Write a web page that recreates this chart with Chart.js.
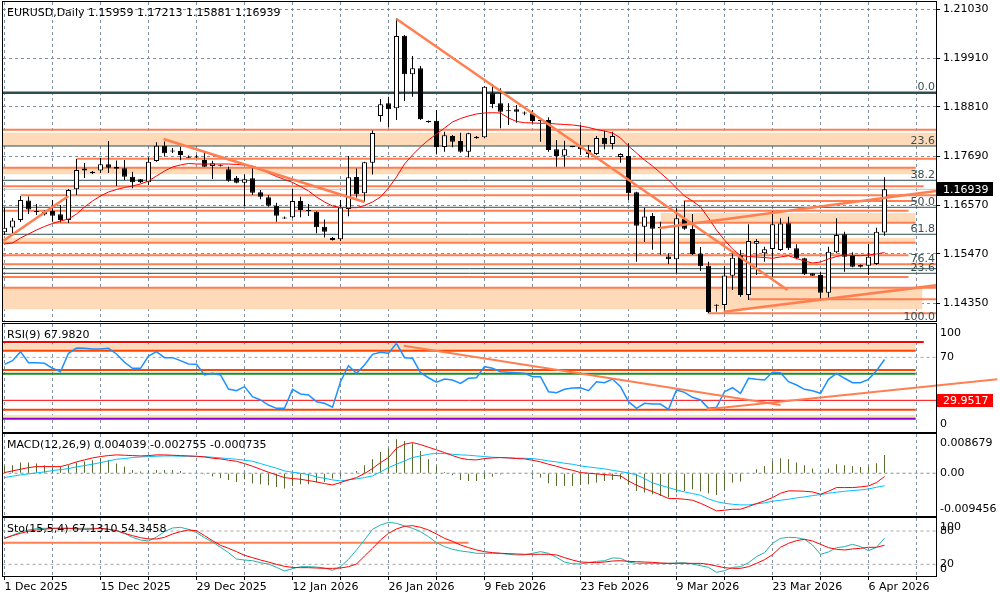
<!DOCTYPE html>
<html><head><meta charset="utf-8">
<script src="https://cdn.jsdelivr.net/npm/chart.js@4.4.1/dist/chart.umd.min.js"></script>
<style>
html,body{margin:0;padding:0;background:#fff;width:1000px;height:600px;overflow:hidden}
canvas{position:absolute;left:0}
</style></head><body>
<canvas id="cMain" width="1000" height="323" style="top:0px"></canvas>
<canvas id="cRsi" width="1000" height="110" style="top:323px"></canvas>
<canvas id="cMacd" width="1000" height="84" style="top:433px"></canvas>
<canvas id="cSto" width="1000" height="83" style="top:517px"></canvas>
<script>
// ---------------- DATA ----------------
const symbol = 'EURUSD,Daily';
const dateTicks = [0,12,24,36,48,60,72,84,96,108];
const dateLabels = ['1 Dec 2025','15 Dec 2025','29 Dec 2025','12 Jan 2026','26 Jan 2026','9 Feb 2026','23 Feb 2026','9 Mar 2026','23 Mar 2026','6 Apr 2026'];
const priceTicks = [1.21030,1.19910,1.18810,1.17690,1.16570,1.15470,1.14350];

const open = [
1.15962,1.16071,1.16241,1.16685,1.16446,1.16423,1.16446,1.16371,1.16241,1.16939,
1.17412,1.17303,1.17367,1.17507,1.17453,1.17417,1.17226,1.17167,1.17098,1.17582,
1.17930,1.17798,1.17810,1.17680,1.17685,1.17605,1.17469,1.17476,1.17394,1.17203,
1.17089,1.17189,1.16871,1.16757,1.16567,1.16287,1.16303,1.16673,1.16469,1.16430,
1.16089,1.15787,1.15803,1.16491,1.17219,1.16848,1.17544,1.18605,1.18894,1.18780,
1.20428,1.19555,1.19689,1.18492,1.18496,1.17901,1.18151,1.18037,1.17794,1.18135,
1.18121,1.19121,1.18894,1.18730,1.18757,1.18673,1.18667,1.18507,1.18514,1.17848,
1.17703,1.17912,1.17907,1.17832,1.17741,1.18105,1.17969,1.17673,1.17696,1.16871,
1.16089,1.16332,1.16082,1.15412,1.15348,1.16264,1.16037,1.15478,1.15203,1.14305,
1.14310,1.14975,1.15446,1.14537,1.15703,1.15485,1.15582,1.15560,1.16167,1.15598,
1.15371,1.15030,1.14991,1.14589,1.15507,1.15917,1.15446,1.15219,1.15203,1.15242,1.15959];
const high = [
1.16514,1.16287,1.16787,1.16776,1.16605,1.16457,1.16696,1.16582,1.16946,1.17628,
1.17537,1.17355,1.17651,1.18037,1.17594,1.17605,1.17339,1.17173,1.17667,1.18007,
1.18026,1.17878,1.17907,1.17707,1.17719,1.17780,1.17589,1.17503,1.17453,1.17242,
1.17280,1.17417,1.16923,1.16810,1.16635,1.16321,1.16946,1.16771,1.16605,1.16442,
1.16253,1.15855,1.16696,1.17696,1.17412,1.17567,1.18276,1.18992,1.19044,1.20821,
1.20446,1.19969,1.19742,1.18503,1.18742,1.18248,1.18173,1.18226,1.18226,1.18151,
1.19287,1.19332,1.19235,1.18894,1.18855,1.18707,1.18742,1.18514,1.18576,1.18060,
1.18044,1.17923,1.18401,1.17946,1.18151,1.18271,1.18248,1.17757,1.17984,1.16885,
1.16521,1.16401,1.16203,1.15485,1.16507,1.16673,1.16378,1.15628,1.15294,1.14325,
1.15196,1.15485,1.15560,1.16144,1.15810,1.15635,1.16446,1.16280,1.16317,1.15689,
1.15385,1.15037,1.15067,1.15635,1.16280,1.15976,1.15507,1.15230,1.15696,1.16066,1.17213];
const low = [
1.15901,1.15901,1.16196,1.16378,1.16355,1.16344,1.16203,1.16189,1.16173,1.16810,
1.17196,1.17287,1.17310,1.17310,1.17014,1.17151,1.16962,1.17082,1.17037,1.17567,
1.17685,1.17764,1.17598,1.17651,1.17651,1.17446,1.17173,1.17457,1.17112,1.17076,
1.16560,1.16810,1.16712,1.16544,1.16203,1.16264,1.16280,1.16303,1.16332,1.15939,
1.15844,1.15776,1.15764,1.16326,1.16753,1.16657,1.17276,1.18476,1.18344,1.18514,
1.18946,1.19044,1.18514,1.18451,1.17748,1.17794,1.17894,1.17771,1.17667,1.18087,
1.18098,1.18780,1.18326,1.18401,1.18453,1.18621,1.18439,1.18021,1.17794,1.17453,
1.17453,1.17894,1.17719,1.17657,1.17719,1.17848,1.17848,1.17544,1.16696,1.15294,
1.15741,1.15567,1.15453,1.15241,1.15030,1.16021,1.15446,1.15082,1.14128,1.14157,
1.14150,1.14650,1.14498,1.14423,1.14991,1.15294,1.14953,1.15537,1.15560,1.15348,
1.14991,1.14969,1.14439,1.14476,1.15485,1.15067,1.15167,1.15162,1.14991,1.15219,1.15881];
const close = [
1.16066,1.16230,1.16696,1.16480,1.16423,1.16367,1.16339,1.16241,1.16923,1.17378,
1.17367,1.17339,1.17507,1.17430,1.17407,1.17226,1.17098,1.17098,1.17567,1.17930,
1.17757,1.17810,1.17719,1.17657,1.17662,1.17453,1.17530,1.17480,1.17135,1.17089,
1.17167,1.16862,1.16771,1.16567,1.16339,1.16276,1.16673,1.16469,1.16446,1.16076,
1.15976,1.15832,1.16526,1.17212,1.16828,1.17553,1.18219,1.18871,1.18757,1.20423,
1.19553,1.19689,1.18530,1.18462,1.17901,1.18167,1.18021,1.17794,1.18212,1.18098,
1.19271,1.18878,1.18703,1.18714,1.18703,1.18662,1.18492,1.18492,1.17832,1.17696,
1.17848,1.17901,1.17848,1.17741,1.18105,1.17962,1.18151,1.17741,1.16848,1.16112,
1.16321,1.16042,1.16053,1.15348,1.16280,1.16042,1.15469,1.15191,1.14150,1.14291,
1.14980,1.15385,1.14537,1.15764,1.15764,1.15576,1.16144,1.16162,1.15598,1.15371,
1.15007,1.14975,1.14589,1.15521,1.15901,1.15407,1.15180,1.15180,1.15407,1.15976,1.16939];
const ma = [
1.15696,1.15719,1.15832,1.15923,1.16014,1.16094,1.16162,1.16219,1.16264,1.16378,
1.16537,1.16673,1.16787,1.16878,1.16935,1.16980,1.17014,1.17060,1.17128,1.17242,
1.17355,1.17446,1.17492,1.17526,1.17514,1.17514,1.17514,1.17514,1.17514,1.17503,
1.17492,1.17469,1.17401,1.17310,1.17230,1.17162,1.17094,1.17003,1.16901,1.16764,
1.16651,1.16560,1.16526,1.16521,1.16521,1.16571,1.16651,1.16764,1.16969,1.17219,
1.17514,1.17719,1.17901,1.18060,1.18196,1.18332,1.18469,1.18548,1.18605,1.18651,
1.18673,1.18680,1.18673,1.18560,1.18480,1.18453,1.18446,1.18439,1.18439,1.18423,
1.18412,1.18401,1.18378,1.18344,1.18298,1.18264,1.18219,1.18105,1.17923,1.17764,
1.17605,1.17469,1.17310,1.17151,1.16969,1.16787,1.16673,1.16537,1.16287,1.16014,
1.15787,1.15582,1.15435,1.15412,1.15401,1.15389,1.15371,1.15401,1.15430,1.15367,
1.15310,1.15264,1.15287,1.15355,1.15412,1.15446,1.15435,1.15430,1.15446,1.15469,1.15503];

// horizontal objects on the price pane: [price, fromBar, toBar]
const slateLevels = [[1.19135,-1,117],[1.17923,-1,117],[1.17144,-1,117],[1.16530,-1,117],[1.15917,-1,117],[1.15135,-1,117],[1.15030,-1,117]];
const coralLevels = [[1.18294,-1,117],[1.17635,9,117],[1.17430,-1,113.9],[1.17007,-1,114.9],[1.16803,2,117],[1.16673,84.9,113.9],[1.16453,-1,113],[1.16180,6,113.9],[1.15726,-1,113.9],[1.15439,-1,113],[1.15235,-1,117],[1.14946,-1,113],[1.14703,-1,117],[1.14439,93,117],[1.14121,87.9,117]];
// rectangles: [top, bottom, fromBar, toBar]
const peachBands = [[1.18226,1.17923,-1,117],[1.17430,1.17280,-1,113.9],[1.16401,1.16180,82,113.9],[1.15832,1.15726,-1,113.9],[1.14703,1.14212,-1,114.75]];
// trend lines: [bar0, price0, bar1, price1]
const trendLines = [[-0.125,1.15771,8,1.16787],[19.875,1.18082,45,1.16651],[49,1.20810,97.875,1.14651],[81.875,1.16060,116.5,1.16901],[89.875,1.14157,116.5,1.14757]];
const fibText = ['0.0','23.6','38.2','50.0','61.8','76.4','23.6','100.0'];
const fibLevel = [1.19135,1.17923,1.17144,1.16530,1.15917,1.15235,1.15030,1.13923];

const rsi = [
63.5,66.9,75.3,65.0,65.0,64.4,59.8,56.6,73.8,78.7,
78.4,77.8,77.8,78.4,73.1,65.4,59.8,59.8,71.2,75.3,
69.7,69.7,66.9,63.8,63.5,53.6,55.1,53.6,40.5,38.9,
42.7,33.3,30.3,25.6,22.5,22.5,40.2,35.9,34.9,28.7,
27.2,23.5,47.3,62.2,55.1,62.9,72.8,74.7,73.8,83.1,
69.7,69.1,55.7,51.0,46.8,49.8,48.9,45.8,50.5,51.0,
61.3,59.8,56.6,56.1,55.7,55.1,52.0,52.0,38.0,37.1,
40.2,41.4,41.7,38.9,47.3,46.4,49.8,42.7,28.7,22.5,
27.2,26.5,26.5,21.6,39.6,37.4,32.8,30.3,22.5,23.5,
38.0,41.7,36.5,50.5,49.5,48.9,56.1,55.7,47.3,44.2,
40.2,38.9,36.5,49.5,55.1,50.5,46.4,46.4,49.5,57.6,67.982];
const rsiRedTop = [84.3,-1,114.9];
const rsiRedLine = 29.9517;
const rsiOrangeLevels = [[76.2,-1,113.9],[58.2,-1,113.9],[21.2,-1,113.9]];
const rsiGreenLevel = [54.8,-1,113.9];
const rsiPurpleLevel = [12.9,-1,113.9];
const rsiPeachBand = [82.1,76.8,-1,113.9];
const rsiKhakiBand = [16.3,12.9,-1,113.9];
const rsiTrendLines = [[49.9,80.8,97,25.6],[87.8,21.6,124.1,49.6]];

const macdHist = [
0.00162,0.00177,0.00236,0.00236,0.00214,0.00177,0.00125,0.00147,0.00177,0.00236,
0.00258,0.00288,0.00324,0.00295,0.00214,0.00147,0.00074,0.00037,0.0005,0.00074,
0.00074,0.00074,0.00052,0.0,-0.0001,-0.00022,-0.00074,-0.00111,-0.00147,-0.00192,
-0.00133,-0.00229,-0.00243,-0.00265,-0.00302,-0.00339,-0.0028,-0.00243,-0.00243,-0.00206,
-0.00192,-0.00118,-0.00059,0.0,0.00052,0.00177,0.0031,0.00472,0.00546,0.00752,
0.00715,0.00664,0.00494,0.0031,0.00162,0.00029,-0.00044,-0.00147,-0.0017,-0.0017,
-0.0012,-0.0008,-0.0003,-0.0001,0.0,-0.0001,-0.0005,-0.00096,-0.00221,-0.0028,
-0.0028,-0.0028,-0.00258,-0.00243,-0.00206,-0.0017,-0.00147,-0.00133,-0.0025,-0.00391,
-0.00428,-0.00464,-0.00501,-0.00538,-0.00428,-0.00391,-0.00354,-0.00406,-0.0045,-0.00479,
-0.00369,-0.00206,-0.00184,-0.0001,0.00088,0.00162,0.00273,0.00332,0.0031,0.00236,
0.00177,0.00103,0.0,0.00103,0.00199,0.00177,0.00162,0.0014,0.00147,0.00221,0.004039];
const macdRed = [
0.00015,0.00052,0.00088,0.00125,0.00147,0.00147,0.00147,0.00147,0.00192,0.00251,
0.00295,0.00339,0.00369,0.00391,0.00406,0.00398,0.00391,0.00383,0.00391,0.00406,
0.00406,0.00398,0.00391,0.00383,0.00376,0.00361,0.00332,0.00317,0.00288,0.00265,
0.00214,0.00155,0.00088,0.00022,-0.00037,-0.00096,-0.00118,-0.00133,-0.00162,-0.00192,
-0.00229,-0.00258,-0.00206,-0.00147,-0.00096,-0.00007,0.00103,0.00236,0.00347,0.00553,
0.00641,0.00678,0.00634,0.00575,0.00516,0.00457,0.00391,0.00332,0.00302,0.00295,
0.00324,0.00339,0.00347,0.00339,0.00324,0.00317,0.00288,0.00251,0.00199,0.00155,
0.00103,0.00066,0.00015,0.0,-0.00015,-0.00029,-0.00044,-0.00059,-0.0017,-0.00265,
-0.00339,-0.00406,-0.00479,-0.0056,-0.0056,-0.00575,-0.00597,-0.00664,-0.00745,-0.00833,
-0.00818,-0.00796,-0.00796,-0.00737,-0.00671,-0.00612,-0.00538,-0.00442,-0.00391,-0.00391,
-0.00398,-0.00413,-0.00464,-0.00398,-0.00317,-0.00317,-0.00317,-0.00302,-0.0028,-0.00206,-0.000735];
const macdBlue = [
-0.00096,-0.00066,-0.00037,-0.00015,0.00007,0.00029,0.00059,0.00081,0.00103,0.0014,
0.0017,0.00199,0.00236,0.00273,0.0031,0.00324,0.00347,0.00361,0.00369,0.00376,
0.00383,0.00383,0.00376,0.00376,0.00369,0.00365,0.00354,0.00339,0.00324,0.0031,
0.00288,0.00265,0.00214,0.00162,0.00111,0.00052,0.00022,0.0,-0.00029,-0.00081,
-0.00111,-0.00147,-0.0017,-0.00147,-0.00125,-0.00096,-0.00059,0.00029,0.00125,0.00199,
0.00273,0.00347,0.00383,0.0042,0.00442,0.00435,0.0042,0.00406,0.00398,0.00383,
0.00369,0.00354,0.00347,0.00339,0.00335,0.00332,0.00324,0.00302,0.00273,0.00251,
0.00221,0.00199,0.00162,0.0014,0.00118,0.00096,0.00066,0.00037,0.00007,-0.00037,
-0.00118,-0.00214,-0.00265,-0.00317,-0.00369,-0.00413,-0.0045,-0.00487,-0.00568,-0.00627,
-0.00664,-0.00686,-0.007,-0.007,-0.00678,-0.00656,-0.00619,-0.00597,-0.00575,-0.00546,
-0.00523,-0.00494,-0.00472,-0.00442,-0.0042,-0.00398,-0.00383,-0.00369,-0.00347,-0.0031,-0.002755];
const macdMax = 0.008679, macdMin = -0.009456;

const stoMain = [
66.8,72.2,78.2,81.8,84.2,84.8,84.8,84.8,84.8,84.8,
84.8,84.8,84.8,83.0,80.6,75.8,68.6,63.8,62.0,69.2,
78.8,85.4,86.6,83.0,77.0,68.0,60.2,50.6,41.0,29.5,
27.7,26.5,22.9,20.5,14.5,7.9,12.1,15.7,15.7,15.1,
13.3,9.1,15.7,29.0,45.8,63.8,83.0,90.8,95.6,93.8,
89.0,84.8,78.8,69.8,59.0,51.8,47.0,44.0,42.2,39.8,
39.8,39.8,39.8,38.0,36.8,36.8,39.8,42.8,39.8,32.6,
24.1,21.1,20.5,22.9,25.3,26.5,31.4,30.8,24.1,21.7,
21.7,21.7,21.7,21.7,22.3,22.9,20.5,17.5,14.5,5.5,
8.5,14.5,15.7,22.9,33.8,41.0,57.8,66.8,68.6,68.0,
65.0,54.8,38.0,42.2,50.0,51.8,56.0,51.8,44.6,50.6,67.131];
const stoSignal = [
66.8,71.6,75.8,79.4,81.8,83.0,84.8,84.8,84.8,83.6,
83.0,83.6,84.8,83.0,80.6,75.8,71.6,68.0,65.6,65.6,
68.6,74.6,78.8,81.8,80.6,71.6,62.6,54.2,48.8,42.8,
36.2,32.0,27.7,24.1,19.9,16.3,14.5,13.9,13.9,13.3,
12.7,12.7,13.3,15.7,20.5,35.0,48.8,63.8,75.8,83.6,
88.4,89.6,86.6,81.8,74.6,66.8,61.4,54.8,50.0,45.8,
42.8,41.0,39.8,39.2,38.6,38.0,38.0,38.0,38.0,36.8,
32.0,27.7,24.1,23.5,22.9,24.1,25.9,26.5,25.3,24.7,
24.1,23.5,22.3,21.7,21.7,21.7,21.7,21.7,19.9,16.9,
13.9,12.7,12.7,15.7,21.7,28.3,37.4,50.6,57.8,62.6,
65.0,62.0,56.0,50.0,47.0,45.8,47.6,48.8,50.6,50.6,54.3458];
const stoLevel = [58.9,-1,58];

// ---------------- RENDER ----------------
const FONT = {family: 'DejaVu Sans', size: 11};
const X_MIN = -0.1875, X_MAX = 116.4375;
const gridIdx = []; for (let i = 0; i <= 114; i += 6) gridIdx.push(i);
const last = close.length - 1;

function xScale(showLabels) {
  return {
    type: 'linear', min: X_MIN, max: X_MAX, bounds: 'data', offset: false,
    afterBuildTicks: s => { s.ticks = gridIdx.map(v => ({value: v})); },
    afterFit: s => { s.height = showLabels ? 24 : 0; s.paddingLeft = 0; s.paddingRight = 0; },
    grid: {color: '#8090a0', lineWidth: 1, offset: false, drawTicks: showLabels, tickLength: 4,
           tickColor: '#000', tickWidth: 1, tickBorderDash: []},
    border: {display: false, dash: [3, 3]},
    ticks: {display: showLabels, autoSkip: false, maxRotation: 0, minRotation: 0, align: 'start',
            padding: 1, color: '#000', font: FONT,
            callback: v => { const k = dateTicks.indexOf(v); return k >= 0 ? dateLabels[k] : ''; }}
  };
}
function paneY(min, max, vals, texts) {
  return {
    type: 'linear', position: 'right', min, max, bounds: 'data', beginAtZero: false,
    afterBuildTicks: s => { s.ticks = vals.map(v => ({value: v})); },
    afterFit: s => { s.width = 64; s.paddingTop = 0; s.paddingBottom = 0; },
    grid: {drawOnChartArea: false, drawTicks: false},
    border: {display: false},
    ticks: {padding: 4, autoSkip: false, color: '#000', font: FONT, callback: (v, i) => texts[i]}
  };
}
function seg(x0, y0, x1, y1, color, width, order, extra) {
  return Object.assign({type: 'line', data: [{x: x0, y: y0}, {x: x1, y: y1}], borderColor: color,
    borderWidth: width, pointRadius: 0, tension: 0, fill: false, order}, extra || {});
}
function level(l, color, width, order, extra) { return seg(l[1], l[0], l[2], l[0], color, width, order, extra); }
function band(b, color, order) {
  return {type: 'line', data: [{x: b[2], y: b[0]}, {x: b[3], y: b[0]}], borderWidth: 0,
    borderColor: 'rgba(0,0,0,0)', backgroundColor: color, pointRadius: 0, fill: {value: b[1]}, order};
}
function series(arr, color, width, order) {
  return {type: 'line', data: arr.map((v, i) => ({x: i, y: v})), borderColor: color, borderWidth: width,
    pointRadius: 0, tension: 0, fill: false, order};
}

const decorCfg = {};
const decor = {
  id: 'decor',
  afterDraw(chart) {
    const cfg = decorCfg[chart.canvas.id] || {};
    const ctx = chart.ctx, a = chart.chartArea, ys = chart.scales.y;
    ctx.save();
    ctx.strokeStyle = '#000'; ctx.lineWidth = 1;
    ctx.strokeRect(Math.round(a.left) - 0.5, Math.round(a.top) - 0.5, Math.round(a.right - a.left) + 1, Math.round(a.bottom - a.top) + 1);
    ctx.font = '11px "DejaVu Sans"';
    (cfg.fib || []).forEach(f => {
      ctx.fillStyle = '#3a4f4f'; ctx.textAlign = 'right'; ctx.textBaseline = 'alphabetic';
      ctx.fillText(f[0], a.right - 1, ys.getPixelForValue(f[1]) - 2.5);
    });
    (cfg.tags || []).forEach(t => {
      const y = ys.getPixelForValue(t.v);
      ctx.fillStyle = t.bg; ctx.fillRect(a.right + 1, Math.round(y - t.h / 2), 56, t.h);
      ctx.fillStyle = '#fff'; ctx.textAlign = 'left'; ctx.textBaseline = 'middle';
      ctx.fillText(t.text, a.right + 7, y + 0.5);
    });
    (cfg.texts || []).forEach(t => {
      ctx.fillStyle = '#000'; ctx.textAlign = 'left'; ctx.textBaseline = 'middle';
      ctx.fillText(t.text, 7, t.y);
    });
    ctx.restore();
  }
};

function makeChart(id, datasets, yOpt, padTop, padBottom, showX) {
  return new Chart(document.getElementById(id), {
    type: 'line',
    data: {datasets},
    options: {
      responsive: false, animation: false, events: [],
      layout: {padding: {left: 3, right: 0, top: padTop, bottom: padBottom}},
      plugins: {legend: {display: false}, tooltip: {enabled: false}, title: {display: false}},
      scales: {x: xScale(showX), y: yOpt}
    },
    plugins: [decor]
  });
}

// ---- main price pane ----
const CORAL = '#FF7F50', SLATE = '#2F4F4F', PEACH = '#FFDAB9';
const mainSets = [];
peachBands.forEach(b => mainSets.push(band(b, PEACH, 100)));
slateLevels.forEach((l, k) => mainSets.push(level(l, SLATE, k === 0 ? 2.5 : 1, 90)));
coralLevels.forEach(l => mainSets.push(level(l, CORAL, 2, 89)));
mainSets.push(level([close[last], -1, 117], '#C0C0C0', 1, 88));
mainSets.push({type: 'bar', data: low.map((v, i) => ({x: i, y: [v, high[i]]})), backgroundColor: '#000',
  borderWidth: 0, barThickness: 1, grouped: false, inflateAmount: 0, order: 50});
mainSets.push({type: 'bar', data: open.map((v, i) => ({x: i, y: [v, close[i]]})),
  backgroundColor: open.map((v, i) => close[i] >= v ? '#fff' : '#000'), borderColor: '#000', borderWidth: 1,
  borderSkipped: false, barThickness: 5, grouped: false, inflateAmount: 0, minBarLength: 1, order: 40});
mainSets.push(series(ma, '#FF0000', 1, 30));
trendLines.forEach(t => mainSets.push(seg(t[0], t[1], t[2], t[3], CORAL, 2.5, 20)));

const P_MAX = 1.211959, P_MIN = 1.139459;
const mainY = {
  type: 'linear', position: 'right', min: P_MIN, max: P_MAX, bounds: 'data', beginAtZero: false,
  afterBuildTicks: s => { s.ticks = priceTicks.map(v => ({value: v})); },
  afterFit: s => { s.width = 64; s.paddingTop = 0; s.paddingBottom = 0; },
  grid: {color: '#8090a0', lineWidth: 1, drawTicks: true, tickLength: 4, tickColor: '#000', tickWidth: 1, tickBorderDash: []},
  border: {display: false, dash: [3, 3]},
  ticks: {padding: 3, autoSkip: false, color: '#000', font: FONT, callback: v => v.toFixed(5)}
};
decorCfg.cMain = {
  texts: [{text: symbol + ' ' + [open[last], high[last], low[last], close[last]].map(v => v.toFixed(5)).join(' '), y: 13}],
  fib: fibText.map((t, k) => [t, fibLevel[k]]),
  tags: [{v: close[last], bg: '#000', h: 14, text: close[last].toFixed(5)}]
};
makeChart('cMain', mainSets, mainY, 2, 2, false);

// ---- RSI pane ----
const rsiSets = [];
rsiSets.push(band(rsiPeachBand, PEACH, 100));
rsiSets.push(band(rsiKhakiBand, '#EEE8AA', 100));
rsiSets.push(level([70, -1, 117], '#A8A8A8', 1, 95, {borderDash: [3, 3]}));
rsiSets.push(level(rsiRedTop, '#FF0000', 2, 90));
rsiOrangeLevels.forEach(l => rsiSets.push(level(l, '#FF4500', 2, 90)));
rsiSets.push(level(rsiGreenLevel, '#228B22', 2, 90));
rsiSets.push(level(rsiPurpleLevel, '#9400D3', 2, 90));
rsiSets.push(level([rsiRedLine, -1, 117], '#FF0000', 1, 90));
rsiSets.push(series(rsi, '#1E90FF', 1.5, 30));
rsiTrendLines.forEach(t => rsiSets.push(seg(t[0], t[1], t[2], t[3], CORAL, 2, 20, {clip: false})));
decorCfg.cRsi = {
  texts: [{text: 'RSI(9) ' + rsi[last].toFixed(4), y: 12}],
  tags: [{v: rsiRedLine, bg: '#FF0000', h: 13, text: rsiRedLine.toFixed(4)}]
};
makeChart('cRsi', rsiSets, paneY(0.47, 101.05, [92.7, 70, 7.9], ['100', '70', '0']), 1, 1, false);

// ---- MACD pane ----
const macdSets = [];
macdSets.push(level([0, -1, 117], '#8090a0', 1, 95, {borderDash: [3, 3]}));
macdSets.push({type: 'bar', data: macdHist.map((v, i) => ({x: i, y: v})), backgroundColor: '#556B2F',
  borderWidth: 0, barThickness: 1, grouped: false, inflateAmount: 0, order: 50});
macdSets.push(series(macdBlue, '#00BFFF', 1, 31));
macdSets.push(series(macdRed, '#FF0000', 1, 30));
decorCfg.cMacd = {
  texts: [{text: 'MACD(12,26,9) ' + [macdHist[last], macdBlue[last], macdRed[last]].map(v => v.toFixed(6)).join(' '), y: 12}]
};
makeChart('cMacd', macdSets, paneY(macdMin, macdMax, [0.006622, 0, -0.007908], [macdMax.toFixed(6), '0.00', macdMin.toFixed(6)]), 1, 1, false);

// ---- Stochastic pane ----
const stoSets = [];
stoSets.push(level([80, -1, 117], '#A8A8A8', 1, 95, {borderDash: [3, 3]}));
stoSets.push(level([20, -1, 117], '#A8A8A8', 1, 95, {borderDash: [3, 3]}));
stoSets.push(level(stoLevel, CORAL, 2, 80));
stoSets.push(series(stoMain, '#20B2AA', 1, 31));
stoSets.push(series(stoSignal, '#FF0000', 1, 30));
decorCfg.cSto = {
  texts: [{text: 'Sto(15,5,4) ' + stoMain[last].toFixed(4) + ' ' + stoSignal[last].toFixed(4), y: 12}]
};
makeChart('cSto', stoSets, paneY(-1.08, 103.4, [87.7, 80, 20, 11.0], ['100', '80', '20', '0']), 1, 0, true);
</script></body></html>
